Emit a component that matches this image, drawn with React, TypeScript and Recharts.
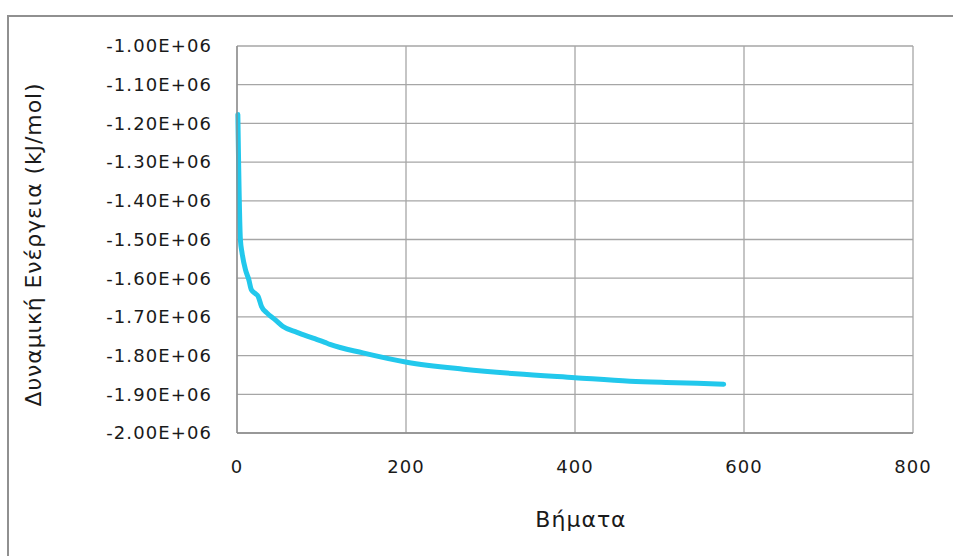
import React from "react";
import { LineChart, Line, XAxis, YAxis, CartesianGrid, Label } from "recharts";

const steps = [1, 4, 6, 10, 14, 17, 22, 25, 29, 35, 45, 54, 71, 90, 104, 110, 149, 201, 268, 330, 400, 465, 520, 576];
const energies = [
  -1177000, -1500000, -1535000, -1578000, -1604000, -1630000, -1640000, -1647000,
  -1673000, -1689000, -1707000, -1724000, -1740000, -1755000, -1766000, -1771000,
  -1793000, -1817000, -1835000, -1847000, -1857000, -1866000, -1870000, -1874000,
];
const xTicks = [0, 200, 400, 600, 800];
const yTicks = [-2000000, -1900000, -1800000, -1700000, -1600000, -1500000, -1400000, -1300000, -1200000, -1100000, -1000000];
const xTitle = "Βήματα";
const yTitle = "Δυναμική Ενέργεια (kJ/mol)";

const data = steps.map((s, i) => ({ step: s, energy: energies[i] }));

const fmt = (v: number) => (v / 1e6).toFixed(2) + "E+06";

const FONT = "'DejaVu Sans', sans-serif";
const tickStyle = { fontFamily: FONT, fontSize: 18, fill: "#1a1a1a", letterSpacing: 1.1 };

export default function App() {
  return (
    <div style={{ position: "absolute", left: 0, top: 0, width: 953, height: 556, overflow: "hidden", background: "#fff" }}>
      <div style={{ position: "absolute", left: 7, top: 15, width: 2000, height: 2000, border: "2px solid #909090" }} />
      <div style={{ position: "absolute", left: 0, top: 0 }}>
        <LineChart width={953} height={556} data={data} margin={{ top: 46, right: 40, bottom: 23, left: 0 }}>
          <CartesianGrid stroke="#a6a6a6" strokeWidth={1.3} />
          <XAxis
            type="number"
            dataKey="step"
            domain={[0, 800]}
            ticks={xTicks}
            height={100}
            tickSize={0}
            tickMargin={27}
            axisLine={{ stroke: "#8c8c8c", strokeWidth: 1.3 }}
            tickLine={false}
            tick={tickStyle}
          >
            <Label
              content={(props: any) => {
                const vb = props.viewBox;
                return (
                  <text x={vb.x + vb.width / 2 + 6} y={vb.y + 94} textAnchor="middle" fontFamily={FONT} fontSize={22} letterSpacing={1} fill="#1a1a1a">
                    {xTitle}
                  </text>
                );
              }}
            />
          </XAxis>
          <YAxis
            type="number"
            domain={[-2000000, -1000000]}
            ticks={yTicks}
            width={237}
            tickSize={0}
            tickMargin={25}
            tickFormatter={fmt}
            axisLine={{ stroke: "#8c8c8c", strokeWidth: 1.3 }}
            tickLine={false}
            tick={tickStyle}
            interval={0}
          >
            <Label
              content={(props: any) => {
                const vb = props.viewBox;
                const cy = vb.y + vb.height / 2 + 5;
                const cx = 41;
                return (
                  <text x={cx} y={cy} transform={`rotate(-90 ${cx} ${cy})`} textAnchor="middle" fontFamily={FONT} fontSize={22} letterSpacing={0.9} fill="#1a1a1a">
                    {yTitle}
                  </text>
                );
              }}
            />
          </YAxis>
          <Line
            type="monotone"
            dataKey="energy"
            stroke="#22C8EC"
            strokeWidth={5}
            strokeLinecap="round"
            strokeLinejoin="round"
            dot={false}
            isAnimationActive={false}
          />
        </LineChart>
      </div>
    </div>
  );
}
